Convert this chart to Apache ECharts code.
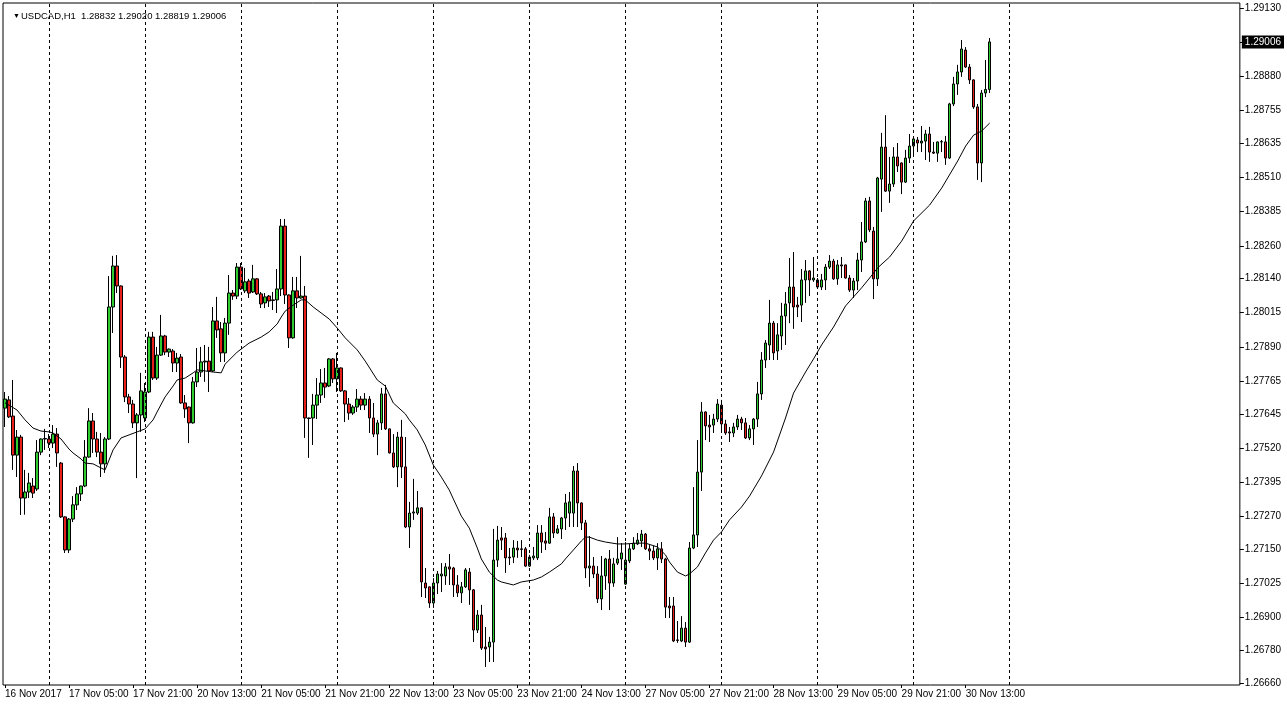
<!DOCTYPE html>
<html><head><meta charset="utf-8">
<script src="https://cdn.jsdelivr.net/npm/echarts@6/dist/echarts.min.js"></script>
<style>html,body{margin:0;padding:0;background:#fff}#c{width:1287px;height:708px}</style>
</head><body><div id="c"></div>
<script>
const symbol = 'USDCAD', timeframe = 'H1';
// hourly candles from 16 Nov 2017 13:00 to 30 Nov 2017 19:00
const opens = [
1.27666,1.27696,1.27637,1.27494,1.27560,1.27337,1.27359,1.27381,1.27370,1.27505,
1.27553,1.27553,1.27538,1.27571,1.27465,1.27268,1.27147,1.27260,1.27312,1.27352,
1.27381,1.27487,1.27619,1.27553,1.27505,1.27462,1.27553,1.28036,1.28186,1.28113,
1.27853,1.27707,1.27681,1.27612,1.27641,1.27630,1.27725,1.27926,1.27776,1.27860,
1.27930,1.27871,1.27875,1.27831,1.27853,1.27685,1.27670,1.27612,1.27762,1.27798,
1.27835,1.27838,1.27802,1.27985,1.27956,1.27868,1.27977,1.28087,1.28076,1.28182,
1.28095,1.28131,1.28091,1.28139,1.28084,1.28051,1.28076,1.28062,1.28062,1.28102,
1.28332,1.28080,1.27923,1.28095,1.28069,1.28076,1.27630,1.27630,1.27677,1.27714,
1.27758,1.27747,1.27846,1.27773,1.27813,1.27729,1.27681,1.27648,1.27670,1.27699,
1.27677,1.27699,1.27630,1.27571,1.27612,1.27718,1.27590,1.27502,1.27451,1.27560,
1.27451,1.27231,1.27282,1.27282,1.27301,1.27026,1.27012,1.26953,1.27026,1.27052,
1.27052,1.27085,1.27081,1.27019,1.26990,1.27012,1.27066,1.27001,1.26854,1.26909,
1.26792,1.26792,1.26810,1.27110,1.27191,1.27191,1.27121,1.27121,1.27154,1.27151,
1.27151,1.27088,1.27118,1.27118,1.27209,1.27180,1.27172,1.27268,1.27209,1.27224,
1.27264,1.27282,1.27282,1.27436,1.27319,1.27246,1.27081,1.27088,1.27059,1.26968,
1.27052,1.27114,1.27026,1.27099,1.27114,1.27022,1.27107,1.27151,1.27169,1.27180,
1.27205,1.27151,1.27143,1.27118,1.27151,1.27114,1.26942,1.26942,1.26818,1.26814,
1.26861,1.26810,1.27154,1.27202,1.27432,1.27652,1.27604,1.27604,1.27626,1.27677,
1.27608,1.27579,1.27575,1.27597,1.27626,1.27612,1.27557,1.27590,1.27626,1.27718,
1.27842,1.27897,1.27977,1.27875,1.27930,1.28003,1.28051,1.28109,1.28043,1.28043,
1.28135,1.28168,1.28135,1.28135,1.28109,1.28135,1.28182,1.28204,1.28139,1.28190,
1.28190,1.28142,1.28098,1.28131,1.28208,1.28274,1.28424,1.28314,1.28139,1.28504,
1.28621,1.28460,1.28486,1.28585,1.28563,1.28493,1.28581,1.28625,1.28647,1.28636,
1.28643,1.28669,1.28603,1.28599,1.28640,1.28640,1.28581,1.28779,1.28852,1.28896,
1.28976,1.28914,1.28867,1.28768,1.28563,1.28819,1.28832];
const highs = [
1.27725,1.27710,1.27769,1.27586,1.27568,1.27440,1.27429,1.27410,1.27549,1.27555,
1.27590,1.27571,1.27604,1.27593,1.27469,1.27270,1.27264,1.27344,1.27377,1.27382,
1.27549,1.27666,1.27648,1.27579,1.27575,1.27560,1.28149,1.28223,1.28226,1.28115,
1.27860,1.27718,1.27696,1.27648,1.27795,1.27758,1.27945,1.27945,1.27890,1.28007,
1.27934,1.27884,1.27882,1.27868,1.27864,1.27714,1.27672,1.27780,1.27886,1.27890,
1.27897,1.27890,1.28036,1.28073,1.27981,1.27996,1.28153,1.28098,1.28197,1.28197,
1.28179,1.28139,1.28190,1.28142,1.28091,1.28087,1.28080,1.28091,1.28175,1.28358,
1.28358,1.28082,1.28146,1.28146,1.28223,1.28113,1.27631,1.27718,1.27776,1.27809,
1.27813,1.27849,1.27849,1.27868,1.27815,1.27732,1.27703,1.27677,1.27736,1.27710,
1.27721,1.27710,1.27685,1.27623,1.27740,1.27751,1.27591,1.27571,1.27579,1.27623,
1.27560,1.27323,1.27407,1.27363,1.27303,1.27081,1.27013,1.27044,1.27070,1.27099,
1.27099,1.27132,1.27085,1.27055,1.27030,1.27081,1.27081,1.27004,1.26927,1.26946,
1.26865,1.26829,1.27224,1.27235,1.27231,1.27209,1.27154,1.27183,1.27180,1.27183,
1.27158,1.27129,1.27158,1.27238,1.27238,1.27213,1.27301,1.27282,1.27238,1.27268,
1.27352,1.27359,1.27454,1.27465,1.27321,1.27257,1.27198,1.27121,1.27088,1.27125,
1.27118,1.27147,1.27118,1.27194,1.27172,1.27176,1.27169,1.27194,1.27209,1.27220,
1.27209,1.27165,1.27162,1.27172,1.27176,1.27118,1.26975,1.26975,1.26887,1.26905,
1.26883,1.27176,1.27377,1.27549,1.27688,1.27654,1.27641,1.27645,1.27699,1.27696,
1.27623,1.27597,1.27612,1.27641,1.27634,1.27630,1.27604,1.27630,1.27762,1.27871,
1.27915,1.28062,1.27985,1.27977,1.28051,1.28091,1.28215,1.28237,1.28073,1.28175,
1.28208,1.28171,1.28219,1.28142,1.28157,1.28193,1.28226,1.28212,1.28208,1.28219,
1.28191,1.28153,1.28142,1.28234,1.28347,1.28435,1.28439,1.28329,1.28512,1.28673,
1.28738,1.28585,1.28621,1.28636,1.28565,1.28611,1.28669,1.28654,1.28658,1.28698,
1.28684,1.28695,1.28640,1.28641,1.28647,1.28662,1.28783,1.28878,1.28922,1.29013,
1.28987,1.28925,1.28869,1.28779,1.28830,1.28940,1.29020];
const lows = [
1.27597,1.27630,1.27440,1.27414,1.27275,1.27276,1.27337,1.27337,1.27363,1.27494,
1.27513,1.27520,1.27520,1.27451,1.27264,1.27136,1.27136,1.27249,1.27293,1.27326,
1.27377,1.27485,1.27502,1.27487,1.27414,1.27429,1.27549,1.27941,1.28087,1.27813,
1.27688,1.27648,1.27593,1.27410,1.27579,1.27615,1.27721,1.27769,1.27769,1.27857,
1.27860,1.27853,1.27798,1.27798,1.27682,1.27630,1.27538,1.27609,1.27743,1.27780,
1.27762,1.27725,1.27798,1.27923,1.27835,1.27835,1.27934,1.28062,1.28065,1.28098,
1.28087,1.28069,1.28087,1.28080,1.28032,1.28032,1.28036,1.28025,1.28014,1.28076,
1.28047,1.27886,1.27920,1.28032,1.28066,1.27557,1.27484,1.27531,1.27626,1.27685,
1.27703,1.27743,1.27758,1.27725,1.27725,1.27615,1.27623,1.27641,1.27652,1.27659,
1.27659,1.27575,1.27560,1.27494,1.27586,1.27586,1.27500,1.27447,1.27377,1.27410,
1.27227,1.27154,1.27257,1.27275,1.26975,1.26971,1.26935,1.26935,1.26986,1.26993,
1.27019,1.27019,1.26975,1.26975,1.26953,1.27008,1.26946,1.26810,1.26843,1.26781,
1.26719,1.26737,1.26737,1.27085,1.27147,1.27063,1.27092,1.27099,1.27118,1.27121,
1.27085,1.27085,1.27110,1.27110,1.27136,1.27147,1.27170,1.27191,1.27206,1.27187,
1.27220,1.27231,1.27231,1.27231,1.27220,1.27044,1.27012,1.27044,1.26953,1.26927,
1.27001,1.26927,1.27012,1.27092,1.27074,1.27019,1.27099,1.27147,1.27165,1.27158,
1.27147,1.27110,1.27110,1.27074,1.27099,1.26898,1.26898,1.26810,1.26807,1.26810,
1.26792,1.26807,1.27150,1.27158,1.27363,1.27549,1.27542,1.27575,1.27615,1.27575,
1.27568,1.27542,1.27560,1.27586,1.27586,1.27553,1.27549,1.27531,1.27597,1.27696,
1.27813,1.27842,1.27842,1.27842,1.27879,1.27897,1.27977,1.27956,1.27999,1.27981,
1.28051,1.28076,1.28128,1.28106,1.28098,1.28098,1.28175,1.28135,1.28117,1.28142,
1.28140,1.28091,1.28069,1.28098,1.28164,1.28270,1.28310,1.28065,1.28113,1.28384,
1.28457,1.28417,1.28475,1.28530,1.28449,1.28490,1.28563,1.28589,1.28603,1.28603,
1.28574,1.28567,1.28596,1.28567,1.28603,1.28556,1.28578,1.28771,1.28812,1.28878,
1.28911,1.28852,1.28761,1.28501,1.28493,1.28804,1.28819];
const closes = [
1.27699,1.27634,1.27494,1.27560,1.27337,1.27359,1.27392,1.27355,1.27505,1.27553,
1.27555,1.27538,1.27571,1.27502,1.27268,1.27147,1.27260,1.27312,1.27352,1.27381,
1.27487,1.27619,1.27553,1.27505,1.27462,1.27553,1.28036,1.28186,1.28113,1.27853,
1.27707,1.27681,1.27612,1.27641,1.27729,1.27725,1.27926,1.27776,1.27860,1.27930,
1.27871,1.27882,1.27831,1.27849,1.27685,1.27663,1.27612,1.27762,1.27798,1.27835,
1.27838,1.27802,1.27985,1.27952,1.27868,1.27977,1.28087,1.28076,1.28182,1.28102,
1.28128,1.28087,1.28139,1.28084,1.28047,1.28073,1.28058,1.28060,1.28102,1.28332,
1.28080,1.27923,1.28095,1.28069,1.28076,1.27630,1.27628,1.27677,1.27714,1.27758,
1.27743,1.27846,1.27773,1.27813,1.27729,1.27681,1.27648,1.27670,1.27699,1.27677,
1.27699,1.27630,1.27571,1.27612,1.27718,1.27590,1.27502,1.27451,1.27560,1.27451,
1.27231,1.27282,1.27286,1.27301,1.27030,1.27008,1.26953,1.27026,1.27059,1.27059,
1.27085,1.27077,1.27019,1.26990,1.27012,1.27074,1.27001,1.26854,1.26909,1.26788,
1.26785,1.26810,1.27110,1.27183,1.27183,1.27118,1.27118,1.27154,1.27147,1.27149,
1.27088,1.27121,1.27125,1.27209,1.27176,1.27172,1.27268,1.27209,1.27224,1.27264,
1.27319,1.27323,1.27436,1.27319,1.27246,1.27081,1.27088,1.27059,1.26968,1.27052,
1.27114,1.27026,1.27096,1.27114,1.27136,1.27110,1.27151,1.27172,1.27183,1.27205,
1.27151,1.27143,1.27118,1.27151,1.27114,1.26938,1.26935,1.26814,1.26816,1.26861,
1.26810,1.27154,1.27202,1.27432,1.27652,1.27601,1.27597,1.27626,1.27681,1.27608,
1.27575,1.27575,1.27597,1.27626,1.27612,1.27557,1.27590,1.27626,1.27718,1.27842,
1.27904,1.27977,1.27868,1.27934,1.28003,1.28047,1.28109,1.28036,1.28036,1.28135,
1.28168,1.28135,1.28142,1.28109,1.28135,1.28182,1.28204,1.28139,1.28190,1.28186,
1.28142,1.28098,1.28131,1.28208,1.28274,1.28424,1.28318,1.28139,1.28508,1.28621,
1.28460,1.28486,1.28585,1.28552,1.28493,1.28581,1.28625,1.28651,1.28636,1.28643,
1.28669,1.28603,1.28599,1.28640,1.28641,1.28581,1.28779,1.28852,1.28896,1.28980,
1.28914,1.28867,1.28768,1.28563,1.28819,1.28832,1.29006];

// moving average: bar index -> value
const maIdx = [0,1,3,5,7,9,11,12,14,16,17,19,20,22,24,25,26,27,29,31,33,35,37,38,40,42,43,45,47,48,50,52,54,55,58,60,61,64,66,68,69,70,72,74,75,77,79,81,83,85,88,90,93,95,97,100,101,103,105,107,109,111,112,114,116,118,119,121,123,124,127,129,132,134,136,139,140,142,144,145,146,148,150,153,155,158,160,163,165,166,168,170,171,173,175,177,179,181,184,186,189,192,195,197,200,202,204,207,210,212,214,216,218,221,224,227,231,234,238,240,242,244,246];
const maVal = [1.27685,1.27677,1.27659,1.27623,1.27593,1.27582,1.27579,1.27575,1.27553,1.27516,1.27502,1.27480,1.27465,1.27462,1.27447,1.27440,1.27476,1.27513,1.27557,1.27568,1.27579,1.27590,1.27623,1.27652,1.27707,1.27747,1.27769,1.27776,1.27795,1.27806,1.27802,1.27798,1.27795,1.27827,1.27871,1.27893,1.27904,1.27926,1.27945,1.27974,1.27999,1.28021,1.28043,1.28062,1.28062,1.28036,1.28014,1.27992,1.27959,1.27923,1.27879,1.27838,1.27769,1.27747,1.27685,1.27645,1.27623,1.27586,1.27531,1.27458,1.27414,1.27366,1.27334,1.27271,1.27227,1.27154,1.27114,1.27066,1.27037,1.27030,1.27019,1.27030,1.27037,1.27048,1.27066,1.27096,1.27114,1.27147,1.27180,1.27194,1.27194,1.27183,1.27176,1.27169,1.27169,1.27172,1.27172,1.27158,1.27129,1.27103,1.27066,1.27052,1.27059,1.27085,1.27136,1.27183,1.27213,1.27257,1.27304,1.27344,1.27418,1.27505,1.27630,1.27721,1.27798,1.27846,1.27897,1.27963,1.28040,1.28073,1.28106,1.28142,1.28179,1.28219,1.28277,1.28351,1.28409,1.28471,1.28570,1.28625,1.28665,1.28680,1.28709];

const xTickLabels = ["16 Nov 2017","17 Nov 05:00","17 Nov 21:00","20 Nov 13:00","21 Nov 05:00","21 Nov 21:00","22 Nov 13:00","23 Nov 05:00","23 Nov 21:00","24 Nov 13:00","27 Nov 05:00","27 Nov 21:00","28 Nov 13:00","29 Nov 05:00","29 Nov 21:00","30 Nov 13:00"];
const xTickStep = 16;
const daySeparators = [11,35,59,83,107,131,155,179,203,227,251];
const yTickValues = [1.26660,1.26780,1.26900,1.27025,1.27150,1.27270,1.27395,1.27520,1.27645,1.27765,1.27890,1.28015,1.28140,1.28260,1.28385,1.28510,1.28635,1.28755,1.28880,1.29005,1.29130];
const yMin = 1.266529, yMax = 1.291483;
const totalSlots = 309;

const FONT = '"Liberation Sans", Arial, sans-serif';
const fmt = v => v.toFixed(5);
const last = closes.length - 1;
const lastPrice = closes[last];
const slots = Array.from({length: totalSlots}, (_, i) => String(i));
const candleData = opens.map((o, i) => [o, closes[i], lows[i], highs[i]]);
const maData = maIdx.map((i, k) => [i, maVal[k]]);
const showTick = (i) => i % xTickStep === 0 && i / xTickStep < xTickLabels.length;
const yLabelValues = yTickValues.filter(v => Math.abs(v - lastPrice) > 0.0004);

const chart = echarts.init(document.getElementById('c'));
chart.setOption({
  animation: false,
  backgroundColor: '#fff',
  title: {
    text: '{t|▼}' + symbol + ',' + timeframe + '  ' + [opens[last], highs[last], lows[last], closes[last]].map(fmt).join(' '),
    left: 8, top: 6,
    textStyle: {fontSize: 9.5, fontWeight: 'normal', color: '#000', fontFamily: FONT,
      rich: {t: {fontSize: 7, color: '#000', padding: [0, 1, 0, 0]}}}
  },
  grid: {left: 3, right: 47, top: 3, bottom: 23, show: true, borderColor: '#000', borderWidth: 1, backgroundColor: '#fff'},
  xAxis: {
    type: 'category', data: slots, boundaryGap: true,
    axisLine: {show: false},
    axisTick: {show: true, interval: showTick, alignWithLabel: true, length: 3, lineStyle: {color: '#000'}},
    axisLabel: {interval: showTick, formatter: (v, i) => xTickLabels[i / xTickStep], align: 'left', margin: 4,
      fontSize: 10, fontFamily: FONT, color: '#000'},
    splitLine: {show: false}
  },
  yAxis: [{
    type: 'value', position: 'right', min: yMin, max: yMax, scale: true,
    axisLine: {show: false},
    axisTick: {show: true, customValues: yTickValues, length: 4, lineStyle: {color: '#000'}},
    axisLabel: {customValues: yLabelValues, formatter: v => fmt(v), margin: 5, fontSize: 10, fontFamily: FONT, color: '#000'},
    splitLine: {show: false}
  }, {
    type: 'value', position: 'right', min: yMin, max: yMax, scale: true,
    axisLine: {show: false}, axisTick: {show: false}, splitLine: {show: false},
    axisLabel: {customValues: [lastPrice], formatter: () => fmt(lastPrice), margin: 2,
      backgroundColor: '#000', color: '#fff', padding: [2, 3, 1, 3], fontSize: 10, fontFamily: FONT}
  }],
  series: [{
    type: 'candlestick',
    data: candleData,
    barWidth: 3,
    z: 2,
    itemStyle: {color: '#2ecc2e', color0: '#e8201c', borderColor: '#000', borderColor0: '#000', borderWidth: 1},
    markLine: {
      silent: true, animation: false, symbol: ['none', 'none'],
      label: {show: false},
      lineStyle: {color: '#000', type: [3, 3], width: 1},
      emphasis: {disabled: true},
      data: daySeparators.map(i => ({xAxis: String(i)}))
    }
  }, {
    type: 'line',
    data: maData,
    symbol: 'none',
    z: 3,
    lineStyle: {color: '#000', width: 1},
    silent: true
  }]
});
</script>
</body></html>
